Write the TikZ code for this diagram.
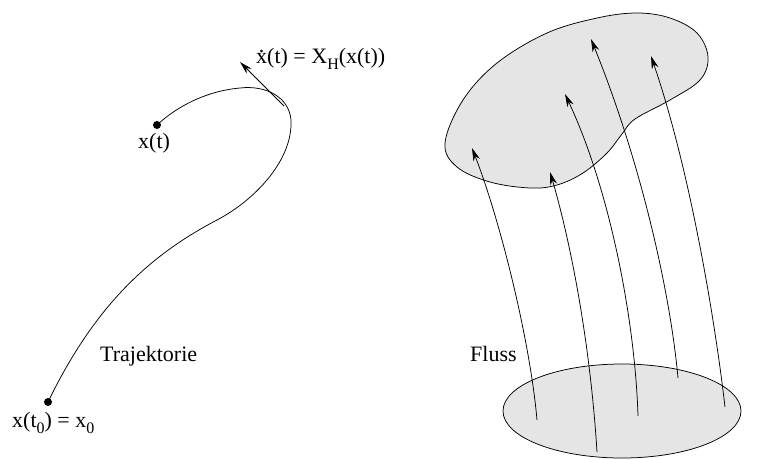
\documentclass[tikz,border=0pt]{standalone}
\usepackage{fontspec}
\setmainfont{Liberation Serif}
\usetikzlibrary{arrows.meta}
\tikzset{
  ln/.style={line width=0.75pt},
  arr/.style={ln,-{Stealth[length=13pt,width=7pt]}},
  region/.style={ln,fill=black!10},
  lbl/.style={inner sep=0pt,anchor=base west,font=\fontsize{22}{26}\selectfont},
  dotpt/.style={circle,fill=black,inner sep=0pt,minimum size=8pt}
}
\newcommand{\xdot}{\rlap{\makebox[0.5em]{\raisebox{0.5em}{.}}}x}
\newcommand{\lowsub}[1]{\raisebox{-0.3em}{\fontsize{16}{18}\selectfont #1}}
\begin{document}
\begin{tikzpicture}[x=1pt,y=-1pt]
\useasboundingbox (0,0) rectangle (763,459);
% left: trajectory
\node[dotpt] (p0) at (48,402) {};
\node[dotpt] (p1) at (157,125) {};
\draw[ln] (p0.center) .. controls (95,305) and (150,255) .. (217,220)
  .. controls (255,200) and (293,160) .. (291,120)
  .. controls (289,97) and (266,85) .. (240,88)
  .. controls (205,91) and (175,108) .. (p1.center);
\coordinate (vb) at (284,106);
\coordinate (vt) at (240,62);
\draw[arr] (vb) -- (vt);
\node[lbl] (xt) at (138,148) {x(t)};
\node[lbl] (xdot) at (256,63) {\xdot(t) = X\lowsub{H}(x(t))};
\node[lbl] (x0) at (12,427) {x(t\lowsub{0}) = x\lowsub{0}};
\node[lbl] (traj) at (100,361) {Trajektorie};
\node[lbl] (fluss) at (470,361) {Fluss};
% right: flow
\draw[region] plot[smooth cycle,tension=0.6] coordinates {
 (445,143) (463,100) (497,63) (547,33) (597,18) (637,13) (670,18) (697,33)
 (708,57) (700,80) (670,100) (635,119) (622,134) (607,153) (583,173)
 (557,185) (530,188) (490,182) (457,167)};
\draw[region] (622,411) ellipse [x radius=119, y radius=47];
\draw[arr] (537,420) .. controls (530,340) and (500,220) .. (472,148);
\draw[arr] (597,452) .. controls (590,340) and (570,240) .. (550,172);
\draw[arr] (638,416) .. controls (635,320) and (610,190) .. (565,94);
\draw[arr] (678,378) .. controls (670,290) and (640,160) .. (591,39);
\draw[arr] (725,407) .. controls (715,320) and (690,170) .. (651,56);
\end{tikzpicture}
\end{document}
